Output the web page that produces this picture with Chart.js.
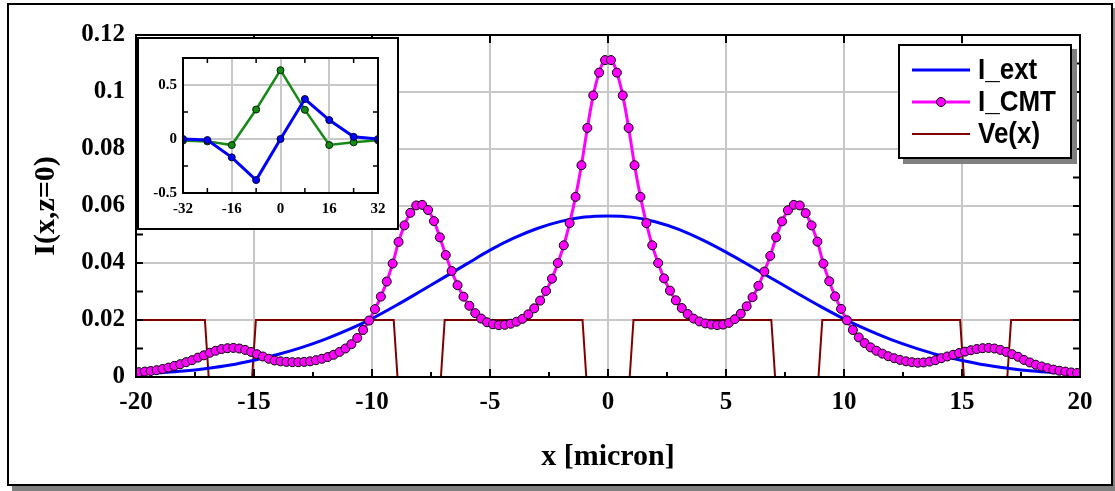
<!DOCTYPE html>
<html>
<head>
<meta charset="utf-8">
<script src="https://cdn.jsdelivr.net/npm/chart.js@4.4.1/dist/chart.umd.min.js"></script>
<style>
  html, body { margin: 0; padding: 0; background: #fff; width: 1115px; height: 491px; overflow: hidden; }
  #frame { position: absolute; left: 7px; top: 3px; width: 1102px; height: 479px; border: 2px solid #000; box-shadow: 5px 5px 0 #808080; background: #fff; }
  #main { position: absolute; left: 0; top: 0; }
  #insetBox { position: absolute; left: 137px; top: 37px; width: 258px; height: 189px; border: 2px solid #000; background: #fff; }
  #inset { display: block; }
</style>
</head>
<body>
<div id="frame"></div>
<canvas id="main" width="1115" height="491"></canvas>
<div id="insetBox"><canvas id="inset" width="258" height="189"></canvas></div>
<script>
// ---------- intensity profiles across the waveguide array ----------
const extX = [-20,-19,-18,-17,-16,-15,-14,-13,-12,-11,-10,-9,-8,-7,-6,-5,-4,-3,-2,-1,0,
              1,2,3,4,5,6,7,8,9,10,11,12,13,14,15,16,17,18,19,20];
const I_ext = [0.0010,0.0015,0.0021,0.0030,0.0042,0.0059,0.0079,0.0103,0.0132,0.0166,0.0205,
               0.0250,0.0298,0.0347,0.0396,0.0445,0.0487,0.0521,0.0546,0.0561,0.0565,
               0.0561,0.0545,0.0518,0.0481,0.0438,0.0391,0.0343,0.0295,0.0248,0.0204,
               0.0165,0.0131,0.0102,0.0077,0.0058,0.0042,0.0030,0.0021,0.0015,0.0010];

const cmtX = [-19.875,-19.625,-19.375,-19.125,-18.875,-18.625,-18.375,-18.125,-17.875,-17.625,
              -17.375,-17.125,-16.875,-16.625,-16.375,-16.125,-15.875,-15.625,-15.375,-15.125,
              -14.875,-14.625,-14.375,-14.125,-13.875,-13.625,-13.375,-13.125,-12.875,-12.625,
              -12.375,-12.125,-11.875,-11.625,-11.375,-11.125,-10.875,-10.625,-10.375,-10.125,
              -9.875,-9.625,-9.375,-9.125,-8.875,-8.625,-8.375,-8.125,-7.875,-7.625,
              -7.375,-7.125,-6.875,-6.625,-6.375,-6.125,-5.875,-5.625,-5.375,-5.125,
              -4.875,-4.625,-4.375,-4.125,-3.875,-3.625,-3.375,-3.125,-2.875,-2.625,
              -2.375,-2.125,-1.875,-1.625,-1.375,-1.125,-0.875,-0.625,-0.375,-0.125,
              0.125,0.375,0.625,0.875,1.125,1.375,1.625,1.875,2.125,2.375,
              2.625,2.875,3.125,3.375,3.625,3.875,4.125,4.375,4.625,4.875,
              5.125,5.375,5.625,5.875,6.125,6.375,6.625,6.875,7.125,7.375,
              7.625,7.875,8.125,8.375,8.625,8.875,9.125,9.375,9.625,9.875,
              10.125,10.375,10.625,10.875,11.125,11.375,11.625,11.875,12.125,12.375,
              12.625,12.875,13.125,13.375,13.625,13.875,14.125,14.375,14.625,14.875,
              15.125,15.375,15.625,15.875,16.125,16.375,16.625,16.875,17.125,17.375,
              17.625,17.875,18.125,18.375,18.625,18.875,19.125,19.375,19.625,19.875];
const I_CMT = [0.0017,0.0019,0.0021,0.0024,0.0028,0.0033,0.0039,0.0045,0.0052,0.0059,
               0.0068,0.0076,0.0085,0.0092,0.0098,0.0101,0.0102,0.0100,0.0095,0.0088,
               0.0080,0.0072,0.0064,0.0058,0.0055,0.0053,0.0052,0.0052,0.0053,0.0055,
               0.0059,0.0064,0.0070,0.0078,0.0088,0.0100,0.0115,0.0137,0.0165,0.0198,
               0.0238,0.0282,0.0335,0.0398,0.0474,0.0532,0.0576,0.0602,0.0604,0.0586,
               0.0547,0.0490,0.0428,0.0372,0.0322,0.0282,0.0250,0.0224,0.0205,0.0192,
               0.0185,0.0182,0.0183,0.0187,0.0194,0.0204,0.0220,0.0241,0.0268,0.0302,
               0.0345,0.0400,0.0462,0.0540,0.0632,0.0743,0.0874,0.0988,0.1068,0.1112,
               0.1112,0.1068,0.0988,0.0874,0.0743,0.0632,0.0540,0.0462,0.0400,0.0346,
               0.0303,0.0269,0.0242,0.0221,0.0205,0.0195,0.0188,0.0184,0.0182,0.0184,
               0.0190,0.0203,0.0222,0.0248,0.0280,0.0320,0.0370,0.0425,0.0490,0.0546,
               0.0585,0.0604,0.0602,0.0575,0.0532,0.0475,0.0398,0.0336,0.0283,0.0239,
               0.0199,0.0165,0.0139,0.0119,0.0104,0.0092,0.0082,0.0073,0.0066,0.0060,
               0.0055,0.0052,0.0050,0.0051,0.0054,0.0059,0.0066,0.0072,0.0078,0.0084,
               0.0089,0.0094,0.0098,0.0101,0.0102,0.0100,0.0095,0.0088,0.0080,0.0071,
               0.0060,0.0051,0.0043,0.0037,0.0031,0.0026,0.0022,0.0019,0.0016,0.0014];

// refractive-index profile: five guides (wells) of the array
const veX = [-20,-17.08,-16.92,-15.08,-14.92,-9.08,-8.92,-7.08,-6.92,-1.08,-0.92,
             0.92,1.08,6.92,7.08,8.92,9.08,14.92,15.08,16.92,17.08,20];
const Ve  = [0.02,0.02,0,0,0.02,0.02,0,0,0.02,0.02,0,
             0,0.02,0.02,0,0,0.02,0.02,0,0,0.02,0.02];

// ---------- inset: modal amplitudes ----------
const insetX     = [-32,-24,-16,-8,0,8,16,24,32];
const insetBlue  = [0,-0.01,-0.17,-0.38,0,0.37,0.175,0.02,0];
const insetGreen = [-0.015,-0.022,-0.056,0.273,0.637,0.27,-0.056,-0.031,-0.012];
const insetXLabels = [-32,-16,0,16,32];
const insetYLabels = [-0.5,0,0.5];

// ---------- helpers ----------
const pts = (xs, ys) => xs.map((x, i) => ({ x: x, y: ys[i] }));
const range = (a, b, s) => { const r = []; for (let v = a; v <= b + 1e-9; v += s) r.push(+v.toFixed(4)); return r; };
const SERIF = '"Liberation Serif", "Times New Roman", serif';
const SANS = '"Liberation Sans", Arial, sans-serif';

// inward tick marks on all four sides plus the plot frame
const frameTicks = {
  id: 'frameTicks',
  afterDatasetsDraw(chart, _args, o) {
    const { ctx, chartArea: a } = chart;
    const xs = chart.scales.x, ys = chart.scales.y;
    ctx.save();
    ctx.strokeStyle = '#000';
    ctx.lineWidth = o.tickWidth;
    ctx.beginPath();
    for (const set of o.marks) {
      for (const v of set.values) {
        if (set.side === 'bottom' || set.side === 'top') {
          const p = xs.getPixelForValue(v);
          const y0 = set.side === 'bottom' ? a.bottom : a.top;
          const d = set.side === 'bottom' ? -1 : 1;
          ctx.moveTo(p, y0); ctx.lineTo(p, y0 + d * set.len);
        } else {
          const p = ys.getPixelForValue(v);
          const x0 = set.side === 'left' ? a.left : a.right;
          const d = set.side === 'left' ? 1 : -1;
          ctx.moveTo(x0, p); ctx.lineTo(x0 + d * set.len, p);
        }
      }
    }
    ctx.stroke();
    ctx.lineWidth = o.border;
    ctx.strokeRect(a.left, a.top, a.right - a.left, a.bottom - a.top);
    ctx.restore();
  }
};

// boxed legend with a drop shadow, placed in the upper right of the plot
const boxLegend = {
  id: 'boxLegend',
  afterDraw(chart, _args, o) {
    const ctx = chart.ctx;
    ctx.save();
    ctx.fillStyle = '#808080';
    ctx.fillRect(o.left + 5, o.top + 5, o.width, o.height);
    ctx.fillStyle = '#fff';
    ctx.fillRect(o.left, o.top, o.width, o.height);
    ctx.strokeStyle = '#000';
    ctx.lineWidth = 2;
    ctx.strokeRect(o.left + 1, o.top + 1, o.width - 2, o.height - 2);
    chart.data.datasets.forEach((ds, i) => {
      const yy = o.top + o.rowTop + i * o.rowGap;
      ctx.strokeStyle = ds.borderColor;
      ctx.lineWidth = ds.borderWidth;
      ctx.beginPath();
      ctx.moveTo(o.left + o.lineStart, yy);
      ctx.lineTo(o.left + o.lineEnd, yy);
      ctx.stroke();
      if (ds.pointRadius > 0) {
        ctx.beginPath();
        ctx.arc(o.left + (o.lineStart + o.lineEnd) / 2, yy, ds.pointRadius, 0, Math.PI * 2);
        ctx.fillStyle = ds.pointBackgroundColor;
        ctx.fill();
        ctx.lineWidth = ds.pointBorderWidth;
        ctx.strokeStyle = ds.pointBorderColor;
        ctx.stroke();
      }
      ctx.save();
      ctx.translate(o.left + o.textStart, yy + 1);
      ctx.scale(1, 1.15);
      ctx.fillStyle = '#000';
      ctx.font = 'bold ' + o.fontSize + 'px ' + SANS;
      ctx.textBaseline = 'middle';
      ctx.textAlign = 'left';
      ctx.fillText(ds.label, 0, 0);
      ctx.restore();
    });
    ctx.restore();
  }
};

// ---------- main chart ----------
new Chart(document.getElementById('main'), {
  type: 'line',
  data: {
    datasets: [
      { label: 'I_ext', data: pts(extX, I_ext), borderColor: '#0000ff', borderWidth: 3,
        pointRadius: 0, cubicInterpolationMode: 'monotone', order: 1 },
      { label: 'I_CMT', data: pts(cmtX, I_CMT), borderColor: '#ff00ff', borderWidth: 3,
        pointRadius: 4.5, pointBorderWidth: 1, pointBorderColor: '#000', pointBackgroundColor: '#ff00ff',
        cubicInterpolationMode: 'monotone', order: 0 },
      { label: 'Ve(x)', data: pts(veX, Ve), borderColor: '#800000', borderWidth: 2,
        pointRadius: 0, tension: 0, order: 2 }
    ]
  },
  options: {
    responsive: false,
    animation: false,
    devicePixelRatio: 1,
    layout: { padding: { top: 35, right: 35, left: 0, bottom: 8 } },
    plugins: {
      legend: { display: false },
      tooltip: { enabled: false },
      frameTicks: {
        tickWidth: 2, border: 2,
        marks: [
          { side: 'bottom', values: range(-15, 15, 5), len: 8 },
          { side: 'bottom', values: range(-17.5, 17.5, 5), len: 5 },
          { side: 'top', values: range(-15, 15, 5), len: 8 },
          { side: 'left', values: range(0.01, 0.11, 0.01), len: 7 },
          { side: 'right', values: range(0.01, 0.11, 0.01), len: 7 }
        ]
      },
      boxLegend: { left: 898, top: 44, width: 174, height: 115, rowTop: 26, rowGap: 32,
                   lineStart: 14, lineEnd: 72, textStart: 80, fontSize: 26 }
    },
    scales: {
      x: {
        type: 'linear', min: -20, max: 20,
        ticks: { stepSize: 5, padding: 11, color: '#000', autoSkip: false, maxRotation: 0,
                 font: { family: SERIF, size: 25, weight: 'bold' } },
        grid: { color: '#c8c8c8', lineWidth: 2, drawTicks: false },
        border: { display: false },
        title: { display: true, text: 'x [micron]', color: '#000',
                 font: { family: SERIF, size: 30, weight: 'bold' }, padding: { top: 0, bottom: 8 } },
        afterFit(s) { s.height = 106; }
      },
      y: {
        type: 'linear', min: 0, max: 0.12,
        ticks: { stepSize: 0.02, padding: 11, color: '#000', autoSkip: false,
                 font: { family: SERIF, size: 25, weight: 'bold' },
                 callback: v => String(+(+v).toFixed(2)) },
        grid: { color: '#c8c8c8', lineWidth: 2, drawTicks: false },
        border: { display: false },
        title: { display: true, text: 'I(x,z=0)', color: '#000',
                 font: { family: SERIF, size: 30, weight: 'bold' }, padding: { top: 28, bottom: 0 } },
        afterFit(s) { s.width = 136; }
      }
    }
  },
  plugins: [frameTicks, boxLegend]
});

// ---------- inset chart ----------
const onLabel = (list) => (c) => list.includes(+(+c.tick.value).toFixed(4)) ? '#c8c8c8' : 'rgba(0,0,0,0)';
new Chart(document.getElementById('inset'), {
  type: 'line',
  data: {
    datasets: [
      { label: 'blue', data: pts(insetX, insetBlue), borderColor: '#0000ff', borderWidth: 3,
        pointRadius: 3.5, pointBorderWidth: 1, pointBorderColor: '#000033', pointBackgroundColor: '#0000ff',
        tension: 0 },
      { label: 'green', data: pts(insetX, insetGreen), borderColor: '#158a15', borderWidth: 2.5,
        pointRadius: 3.5, pointBorderWidth: 1, pointBorderColor: '#002200', pointBackgroundColor: '#158a15',
        tension: 0 }
    ]
  },
  options: {
    responsive: false,
    animation: false,
    devicePixelRatio: 1,
    layout: { padding: { top: 19, right: 19, left: 0, bottom: 0 } },
    plugins: {
      legend: { display: false },
      tooltip: { enabled: false },
      frameTicks: {
        tickWidth: 1.5, border: 2,
        marks: [
          { side: 'bottom', values: [-24, -8, 8, 24], len: 5 },
          { side: 'top', values: [-24, -8, 8, 24], len: 5 },
          { side: 'left', values: [-0.25, 0.25], len: 5 },
          { side: 'right', values: [-0.25, 0.25], len: 5 }
        ]
      }
    },
    scales: {
      x: {
        type: 'linear', min: -32, max: 32,
        ticks: { stepSize: 8, padding: 7, color: '#000', autoSkip: false, maxRotation: 0,
                 font: { family: SERIF, size: 15, weight: 'bold' },
                 callback: v => insetXLabels.includes(+v) ? String(v) : '' },
        grid: { color: onLabel(insetXLabels), lineWidth: 2, drawTicks: false },
        border: { display: false },
        afterFit(s) { s.height = 35; }
      },
      y: {
        type: 'linear', min: -0.5, max: 0.75,
        ticks: { stepSize: 0.25, padding: 6, color: '#000', autoSkip: false,
                 font: { family: SERIF, size: 15, weight: 'bold' },
                 callback: v => insetYLabels.includes(+(+v).toFixed(4)) ? String(+(+v).toFixed(2)) : '' },
        grid: { color: onLabel(insetYLabels), lineWidth: 2, drawTicks: false },
        border: { display: false },
        afterFit(s) { s.width = 44; }
      }
    }
  },
  plugins: [frameTicks]
});
</script>
</body>
</html>
